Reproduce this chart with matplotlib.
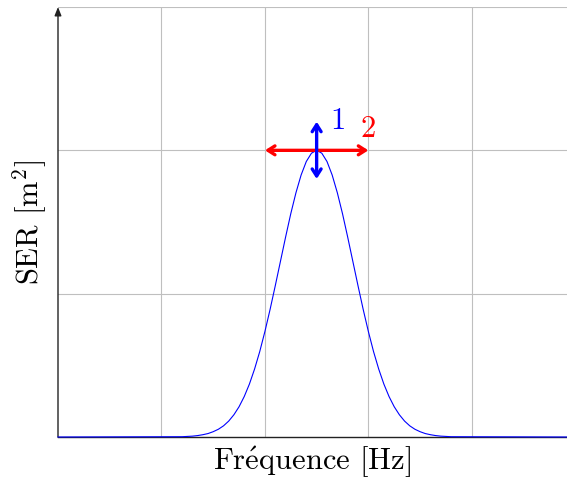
import numpy as np
import matplotlib
matplotlib.use("Agg")
import matplotlib.pyplot as plt

plt.rcParams["mathtext.fontset"] = "cm"
plt.rcParams["font.family"] = ["cmr10", "DejaVu Serif"]

# values
freq = np.round(np.arange(1.2, 3.8001, 0.05), 2)
ser = [0.002, 0.004, 0.006, 0.010, 0.016, 0.024, 0.037, 0.054, 0.078, 0.111, 0.155,
       0.211, 0.282, 0.369, 0.474, 0.596, 0.736, 0.890, 1.055, 1.225, 1.395, 1.558,
       1.704, 1.828, 1.922, 1.980,
       2.000,
       1.980, 1.922, 1.828, 1.704, 1.558, 1.395, 1.225, 1.055, 0.890, 0.736, 0.596,
       0.474, 0.369, 0.282, 0.211, 0.155, 0.111, 0.078, 0.054, 0.037, 0.024, 0.016,
       0.010, 0.006, 0.004, 0.002]
freq = np.concatenate([[0.0], freq, [4.92]])
ser = [0.0] + ser + [0.0]

x_grid = [1, 2, 3, 4]
y_grid = [1, 2, 3]
peak_x = 2.5
peak_y = 2.0
arrow1 = (1.8, 2.2)   # vertical arrow 1
arrow2 = (2.0, 3.0)   # horizontal arrow 2

fig = plt.figure(figsize=(5.67, 4.79), dpi=100)
ax = fig.add_axes([58/567, 42/479, 509/567, 430/479])
ax.set_xlim(0, 4.92)
ax.set_ylim(0, 3)
ax.set_xticks(x_grid)
ax.set_yticks(y_grid)
ax.set_xticklabels([])
ax.set_yticklabels([])
ax.tick_params(length=0)
ax.grid(True, color="#bfbfbf", linewidth=0.8)
for s in ["top", "right", "left"]:
    ax.spines[s].set_visible(False)
ax.spines["bottom"].set_color("#222222")
ax.spines["bottom"].set_linewidth(1.0)

ax.annotate("", xy=(0, 1.0), xytext=(0, 0), xycoords="axes fraction",
            arrowprops=dict(arrowstyle="-|>,head_length=0.5,head_width=0.2",
                            color="#222222", lw=1.0, shrinkA=0, shrinkB=0),
            annotation_clip=False)

ax.plot(freq, ser, color="blue", linewidth=0.8, clip_on=False, zorder=3)

ax.annotate("", xy=(arrow2[0], peak_y), xytext=(arrow2[1], peak_y),
            arrowprops=dict(arrowstyle="<->,head_length=0.5,head_width=0.32",
                            color="red", lw=2.4, shrinkA=0, shrinkB=0), zorder=4)
ax.annotate("", xy=(peak_x, arrow1[0]), xytext=(peak_x, arrow1[1]),
            arrowprops=dict(arrowstyle="<->,head_length=0.5,head_width=0.32",
                            color="blue", lw=2.4, shrinkA=0, shrinkB=0), zorder=5)
ax.text(2.63, 2.2, "1", color="blue", fontsize=22, ha="left", va="center")
ax.text(3.0, 2.15, "2", color="red", fontsize=22, ha="center", va="center")

ax.set_xlabel(r"Fr$\acute{\mathrm{e}}$quence [Hz]", fontsize=22)
ax.set_ylabel(r"SER [m$^2$]", fontsize=22)
ax.xaxis.set_label_coords(0.5, -0.058)
ax.yaxis.set_label_coords(-0.055, 0.5)
ax.xaxis.label.set_va("center")
ax.yaxis.label.set_va("center")

fig.savefig("out.png", dpi=100)
